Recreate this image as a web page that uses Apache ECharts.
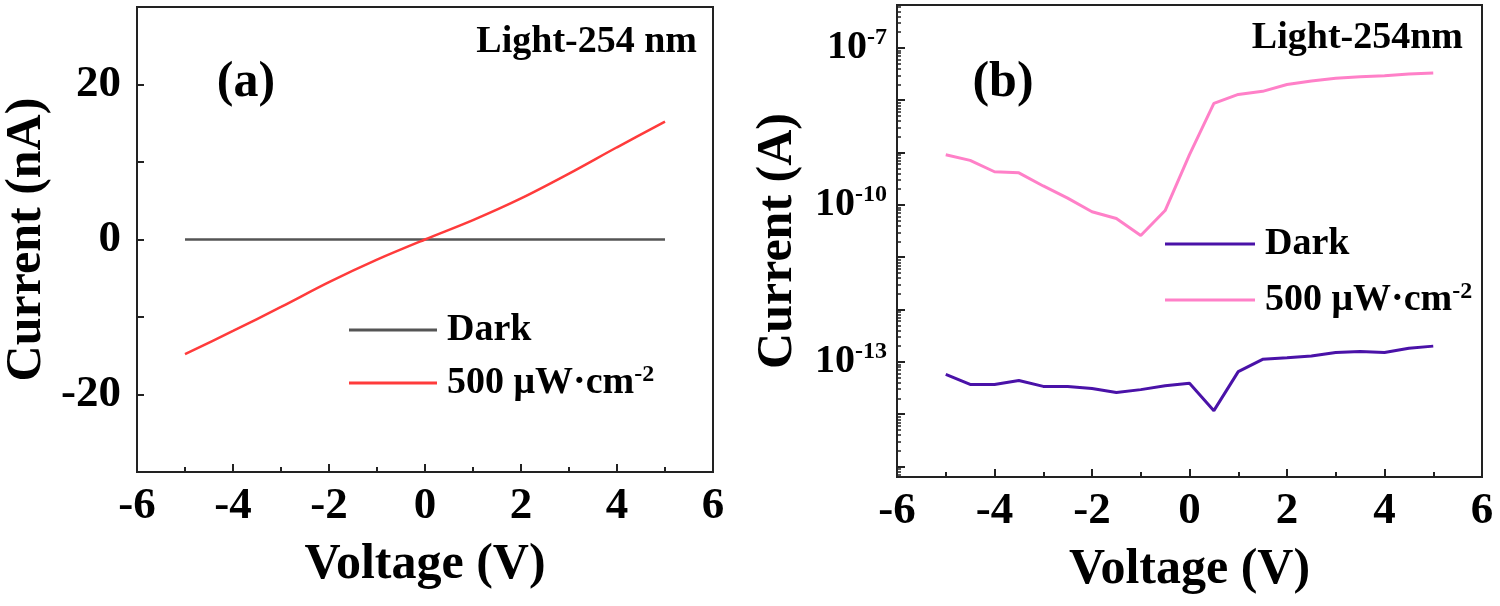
<!doctype html>
<html>
<head>
<meta charset="utf-8">
<title>I-V curves, 254 nm</title>
<style>html,body{margin:0;padding:0;background:#fff;}</style>
</head>
<body>
<script src="https://cdn.jsdelivr.net/npm/echarts@6/dist/echarts.min.js"></script>
<div id="chart" style="width:1500px;height:606px;"></div>
<script>
// panel (a): linear current in nA
const voltA = [-5, -4, -3, -2, -1, 0, 1, 2, 3, 4, 5];
const darkA = [0, 0, 0, 0, 0, 0, 0, 0, 0, 0, 0];
const lightA = [-14.8, -11.8, -8.7, -5.5, -2.6, 0, 2.5, 5.3, 8.5, 11.9, 15.2];

// panel (b): log current in A
const voltB = [-5, -4.5, -4, -3.5, -3, -2.5, -2, -1.5, -1, -0.5, 0, 0.5, 1, 1.5, 2, 2.5, 3, 3.5, 4, 4.5, 5];
const darkB = [5.75e-14, 3.7e-14, 3.7e-14, 4.4e-14, 3.4e-14, 3.4e-14, 3.1e-14, 2.6e-14, 2.95e-14, 3.5e-14, 3.9e-14,
	1.17e-14, 6.5e-14, 1.12e-13, 1.2e-13, 1.29e-13, 1.51e-13, 1.58e-13, 1.51e-13, 1.82e-13, 2.0e-13];
const lightB = [9.1e-10, 7.1e-10, 4.3e-10, 4.1e-10, 2.3e-10, 1.35e-10, 7.4e-11, 5.5e-11, 2.6e-11, 7.8e-11, 9.1e-10,
	8.7e-9, 1.29e-8, 1.48e-8, 2.0e-8, 2.34e-8, 2.63e-8, 2.82e-8, 2.95e-8, 3.16e-8, 3.31e-8];

const legendNames = {
	'Dark (a)': 'Dark', 'Light (a)': '500 μW·cm{s|-2}',
	'Dark (b)': 'Dark', 'Light (b)': '500 μW·cm{s|-2}'
};

const FONT = '"Liberation Serif", "Times New Roman", serif';
const INK = '#000';
const FRAME = '#222';

const pairs = (xs, ys) => xs.map((x, i) => [x, ys[i]]);

const tickLabel = { fontSize: 45, fontWeight: 'bold', fontFamily: FONT, color: INK };
const axisName = { fontSize: 50, fontWeight: 'bold', fontFamily: FONT, color: INK };
const frameLine = { show: true, onZero: false, lineStyle: { color: FRAME, width: 2 } };

function xAxis(gridIndex) {
	return {
		gridIndex, type: 'value', min: -6, max: 6, interval: 2,
		name: 'Voltage (V)', nameLocation: 'middle', nameGap: 68, nameTextStyle: axisName,
		axisLine: frameLine,
		axisTick: { inside: true, length: 8, lineStyle: { color: FRAME, width: 2 } },
		minorTick: { show: true, splitNumber: 2, length: 5, lineStyle: { color: FRAME, width: 2 } },
		axisLabel: Object.assign({ margin: 12 }, tickLabel),
		splitLine: { show: false }
	};
}

function legend(left, top, gap, width, names) {
	return {
		orient: 'vertical', left, top, itemGap: gap, itemWidth: width, itemHeight: 3,
		icon: 'rect', selectedMode: false, data: names,
		formatter: n => legendNames[n],
		textStyle: {
			fontSize: 38, fontWeight: 'bold', fontFamily: FONT, color: INK, lineHeight: 40,
			padding: [0, 0, 0, 5],
			rich: { s: { fontSize: 24, fontWeight: 'bold', fontFamily: FONT, color: INK, lineHeight: 24, verticalAlign: 'top' } }
		}
	};
}

function label(x, y, text, size, align) {
	return {
		type: 'text', x, y,
		style: { text, fill: INK, font: 'bold ' + size + 'px ' + FONT, align, verticalAlign: 'middle' }
	};
}

const chart = echarts.init(document.getElementById('chart'));

chart.setOption({
	animation: false,
	grid: [
		{ left: 137, top: 7, width: 576, height: 465, show: true, borderColor: FRAME, borderWidth: 2 },
		{ left: 897, top: 5, width: 585, height: 472, show: true, borderColor: FRAME, borderWidth: 2 }
	],
	xAxis: [xAxis(0), xAxis(1)],
	yAxis: [
		{
			gridIndex: 0, type: 'value', min: -30, max: 30, interval: 10,
			name: 'Current (nA)', nameLocation: 'middle', nameGap: 85, nameTextStyle: axisName,
			axisLine: frameLine,
			axisTick: { inside: true, length: 7, lineStyle: { color: FRAME, width: 2 } },
			axisLabel: Object.assign({ margin: 16, formatter: v => (v % 20 === 0 ? String(v) : '') }, tickLabel),
			splitLine: { show: false }
		},
		{
			gridIndex: 1, type: 'log', logBase: 10, min: Math.pow(10, -15.2), max: Math.pow(10, -6.18), splitNumber: 9,
			name: 'Current (A)', nameLocation: 'middle', nameGap: 94, nameTextStyle: axisName,
			axisLine: frameLine,
			axisTick: { inside: true, length: 8, lineStyle: { color: FRAME, width: 2 } },
			minorTick: { show: true, splitNumber: 9, length: 4, lineStyle: { color: FRAME, width: 1.5 } },
			axisLabel: {
				margin: 10,
				formatter: v => {
					const e = Math.log10(v), r = Math.round(e);
					if (Math.abs(e - r) > 1e-6 || ((r % 3) + 3) % 3 !== 2) return '';
					return '{b|10}{s|' + r + '}';
				},
				rich: {
					b: { fontSize: 40, fontWeight: 'bold', fontFamily: FONT, color: INK, lineHeight: 44 },
					s: { fontSize: 24, fontWeight: 'bold', fontFamily: FONT, color: INK, lineHeight: 24, verticalAlign: 'top' }
				}
			},
			splitLine: { show: false }
		}
	],
	legend: [
		legend(344, 305, 13, 88, ['Dark (a)', 'Light (a)']),
		legend(1160, 219, 16, 90, ['Dark (b)', 'Light (b)'])
	],
	graphic: [
		label(697, 42, 'Light-254 nm', 38, 'right'),
		label(246, 83, '(a)', 50, 'center'),
		label(1463, 38, 'Light-254nm', 38, 'right'),
		label(1003, 83, '(b)', 50, 'center')
	],
	series: [
		{
			name: 'Dark (a)', type: 'line', xAxisIndex: 0, yAxisIndex: 0, data: pairs(voltA, darkA),
			symbol: 'none', lineStyle: { color: '#555555', width: 2.5 }, itemStyle: { color: '#555555' }
		},
		{
			name: 'Light (a)', type: 'line', xAxisIndex: 0, yAxisIndex: 0, data: pairs(voltA, lightA),
			symbol: 'none', smooth: 0.3, lineStyle: { color: '#ff3b3b', width: 2.5 }, itemStyle: { color: '#ff3b3b' }
		},
		{
			name: 'Dark (b)', type: 'line', xAxisIndex: 1, yAxisIndex: 1, data: pairs(voltB, darkB),
			symbol: 'none', lineStyle: { color: '#4a12a8', width: 3 }, itemStyle: { color: '#4a12a8' }
		},
		{
			name: 'Light (b)', type: 'line', xAxisIndex: 1, yAxisIndex: 1, data: pairs(voltB, lightB),
			symbol: 'none', lineStyle: { color: '#ff80c8', width: 3 }, itemStyle: { color: '#ff80c8' }
		}
	]
});
</script>
</body>
</html>
